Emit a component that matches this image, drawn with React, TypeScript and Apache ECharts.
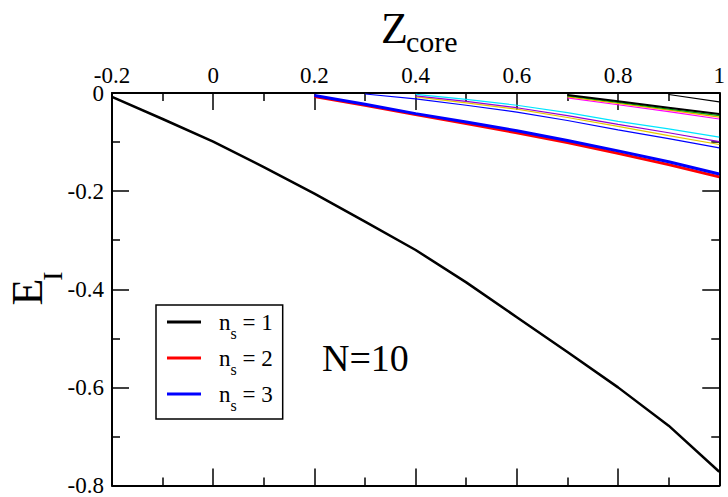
import React, { useEffect, useRef } from "react";
import * as echarts from "echarts";

// ---- data ----
const zFull = [-0.2, -0.1, 0, 0.1, 0.2, 0.3, 0.4, 0.5, 0.6, 0.7, 0.8, 0.9, 1];
const eNs1 = [-0.008, -0.053, -0.099, -0.151, -0.205, -0.262, -0.32, -0.386, -0.457, -0.528, -0.6, -0.678, -0.772];

const zFrom02 = [0.2, 0.3, 0.4, 0.5, 0.6, 0.7, 0.8, 0.9, 1];
const eNs2 = [-0.007, -0.025, -0.044, -0.062, -0.081, -0.101, -0.123, -0.146, -0.171];
const eNs3 = [-0.005, -0.023, -0.042, -0.059, -0.077, -0.097, -0.118, -0.14, -0.165];

const zFrom03 = [0.3, 0.4, 0.5, 0.6, 0.7, 0.8, 0.9, 1];
const eBlueThin = [-0.002, -0.012, -0.025, -0.039, -0.056, -0.075, -0.093, -0.112];

const zFrom04 = [0.4, 0.5, 0.6, 0.7, 0.8, 0.9, 1];
const eCyan = [-0.003, -0.013, -0.025, -0.04, -0.058, -0.073, -0.09];
const eViolet = [-0.006, -0.017, -0.03, -0.046, -0.064, -0.081, -0.099];
const eYellow = [-0.008, -0.02, -0.033, -0.05, -0.068, -0.087, -0.105];

const zFrom07 = [0.7, 0.8, 0.9, 1];
const eBlack07 = [-0.004, -0.017, -0.03, -0.043];
const eGreen07 = [-0.006, -0.019, -0.033, -0.046];
const eOrange07 = [-0.008, -0.021, -0.035, -0.049];
const eMagenta07 = [-0.01, -0.024, -0.038, -0.053];

const zFrom09 = [0.9, 1];
const eBlack09 = [-0.003, -0.018];

const legendNames = ["n_s = 1", "n_s = 2", "n_s = 3"];
const xTicks = [-0.2, 0, 0.2, 0.4, 0.6, 0.8, 1];
const yTicks = [0, -0.2, -0.4, -0.6, -0.8];

const FONT = "Liberation Serif";

const pairs = (xs: number[], ys: number[]) => xs.map((x, i) => [x, ys[i]]);

const line = (name: string, xs: number[], ys: number[], color: string, width: number) => ({
  type: "line",
  name,
  data: pairs(xs, ys),
  showSymbol: false,
  symbol: "none",
  xAxisIndex: 0,
  yAxisIndex: 0,
  lineStyle: { color, width },
  itemStyle: { color },
  z: 3,
});

export default function App() {
  const ref = useRef<HTMLDivElement>(null);
  useEffect(() => {
    if (!ref.current) return;
    const chart = echarts.init(ref.current, undefined, { renderer: "svg" });
    const axisCommon = {
      axisLine: { show: true, onZero: false, lineStyle: { color: "#000", width: 2 } },
      axisTick: { show: true, inside: true, length: 17, lineStyle: { color: "#000", width: 1.5 } },
      minorTick: { show: true, splitNumber: 2, length: 8, lineStyle: { color: "#000", width: 1.5 } },
      splitLine: { show: false },
      minorSplitLine: { show: false },
    };
    const labelStyle = { fontFamily: FONT, fontSize: 23, color: "#000" };
    chart.setOption({
      animation: false,
      backgroundColor: "#fff",
      textStyle: { fontFamily: FONT },
      grid: { left: 112, right: 5, top: 93, bottom: 10 },
      xAxis: [
        {
          type: "value",
          position: "top",
          min: -0.2,
          max: 1,
          interval: 0.2,
          ...axisCommon,
          axisLabel: {
            show: true,
            margin: 6,
            ...labelStyle,
            formatter: (v: number) => {
              const t = xTicks.find((k) => Math.abs(k - v) < 1e-6);
              return t === undefined ? "" : String(t);
            },
          },
        },
        {
          type: "value",
          position: "bottom",
          min: -0.2,
          max: 1,
          interval: 0.2,
          ...axisCommon,
          axisLabel: { show: false },
        },
      ],
      yAxis: [
        {
          type: "value",
          position: "left",
          min: -0.8,
          max: 0,
          interval: 0.2,
          ...axisCommon,
          axisLabel: {
            show: true,
            margin: 8,
            ...labelStyle,
            formatter: (v: number) => {
              const t = yTicks.find((k) => Math.abs(k - v) < 1e-6);
              return t === undefined ? "" : String(t);
            },
          },
        },
        {
          type: "value",
          position: "right",
          min: -0.8,
          max: 0,
          interval: 0.2,
          ...axisCommon,
          axisLabel: { show: false },
        },
      ],
      legend: {
        show: true,
        data: legendNames,
        orient: "vertical",
        left: 156,
        top: 305,
        icon: "rect",
        itemWidth: 34,
        itemHeight: 3,
        itemGap: 6,
        padding: [6, 10, 6, 11],
        borderColor: "#000",
        borderWidth: 1.5,
        backgroundColor: "#fff",
        selectedMode: false,
        formatter: (name: string) => {
          const m = name.match(/^n_s = (.+)$/);
          return m ? `{n|n}{s|s}{r| = ${m[1]}}` : name;
        },
        textStyle: {
          fontFamily: FONT,
          fontSize: 23,
          color: "#000",
          padding: [0, 0, 0, 13],
          rich: {
            n: { fontFamily: FONT, fontSize: 23, color: "#000", lineHeight: 22, verticalAlign: "top" },
            s: { fontFamily: FONT, fontSize: 16, color: "#000", lineHeight: 14, padding: [14, 0, 0, 0], verticalAlign: "top" },
            r: { fontFamily: FONT, fontSize: 23, color: "#000", lineHeight: 22, verticalAlign: "top" },
          },
        },
      },
      graphic: [
        { type: "text", left: 381, top: 6, style: { text: "Z", font: `44px ${FONT}`, fill: "#000" } },
        { type: "text", left: 406, top: 26, style: { text: "core", font: `30px ${FONT}`, fill: "#000" } },
        {
          type: "text",
          x: 27,
          y: 292,
          rotation: Math.PI / 2,
          style: { text: "E", font: `44px ${FONT}`, fill: "#000", align: "center", verticalAlign: "middle" },
        },
        {
          type: "text",
          x: 52,
          y: 276,
          rotation: Math.PI / 2,
          style: { text: "I", font: `28px ${FONT}`, fill: "#000", align: "center", verticalAlign: "middle" },
        },
        {
          type: "text",
          x: 322,
          y: 358,
          style: { text: "N=10", font: `38px ${FONT}`, fill: "#000", align: "left", verticalAlign: "middle" },
        },
      ],
      series: [
        line("n_s = 1", zFull, eNs1, "#000000", 2.5),
        line("n_s = 2", zFrom02, eNs2, "#ff0000", 3),
        line("n_s = 3", zFrom02, eNs3, "#0000ff", 3),
        line("blue thin", zFrom03, eBlueThin, "#0000ff", 1.2),
        line("yellow", zFrom04, eYellow, "#e6c800", 1.2),
        line("violet", zFrom04, eViolet, "#9400d3", 1.2),
        line("cyan", zFrom04, eCyan, "#00e5ff", 1.2),
        line("magenta", zFrom07, eMagenta07, "#ff00ff", 1.2),
        line("orange", zFrom07, eOrange07, "#ffa500", 1.2),
        line("green", zFrom07, eGreen07, "#00b000", 1.2),
        line("black 0.7", zFrom07, eBlack07, "#000000", 2),
        line("black 0.9", zFrom09, eBlack09, "#000000", 1.2),
      ],
    });
    return () => chart.dispose();
  }, []);
  return <div ref={ref} style={{ width: 728, height: 497, position: "absolute", left: 0, top: 0 }} />;
}
